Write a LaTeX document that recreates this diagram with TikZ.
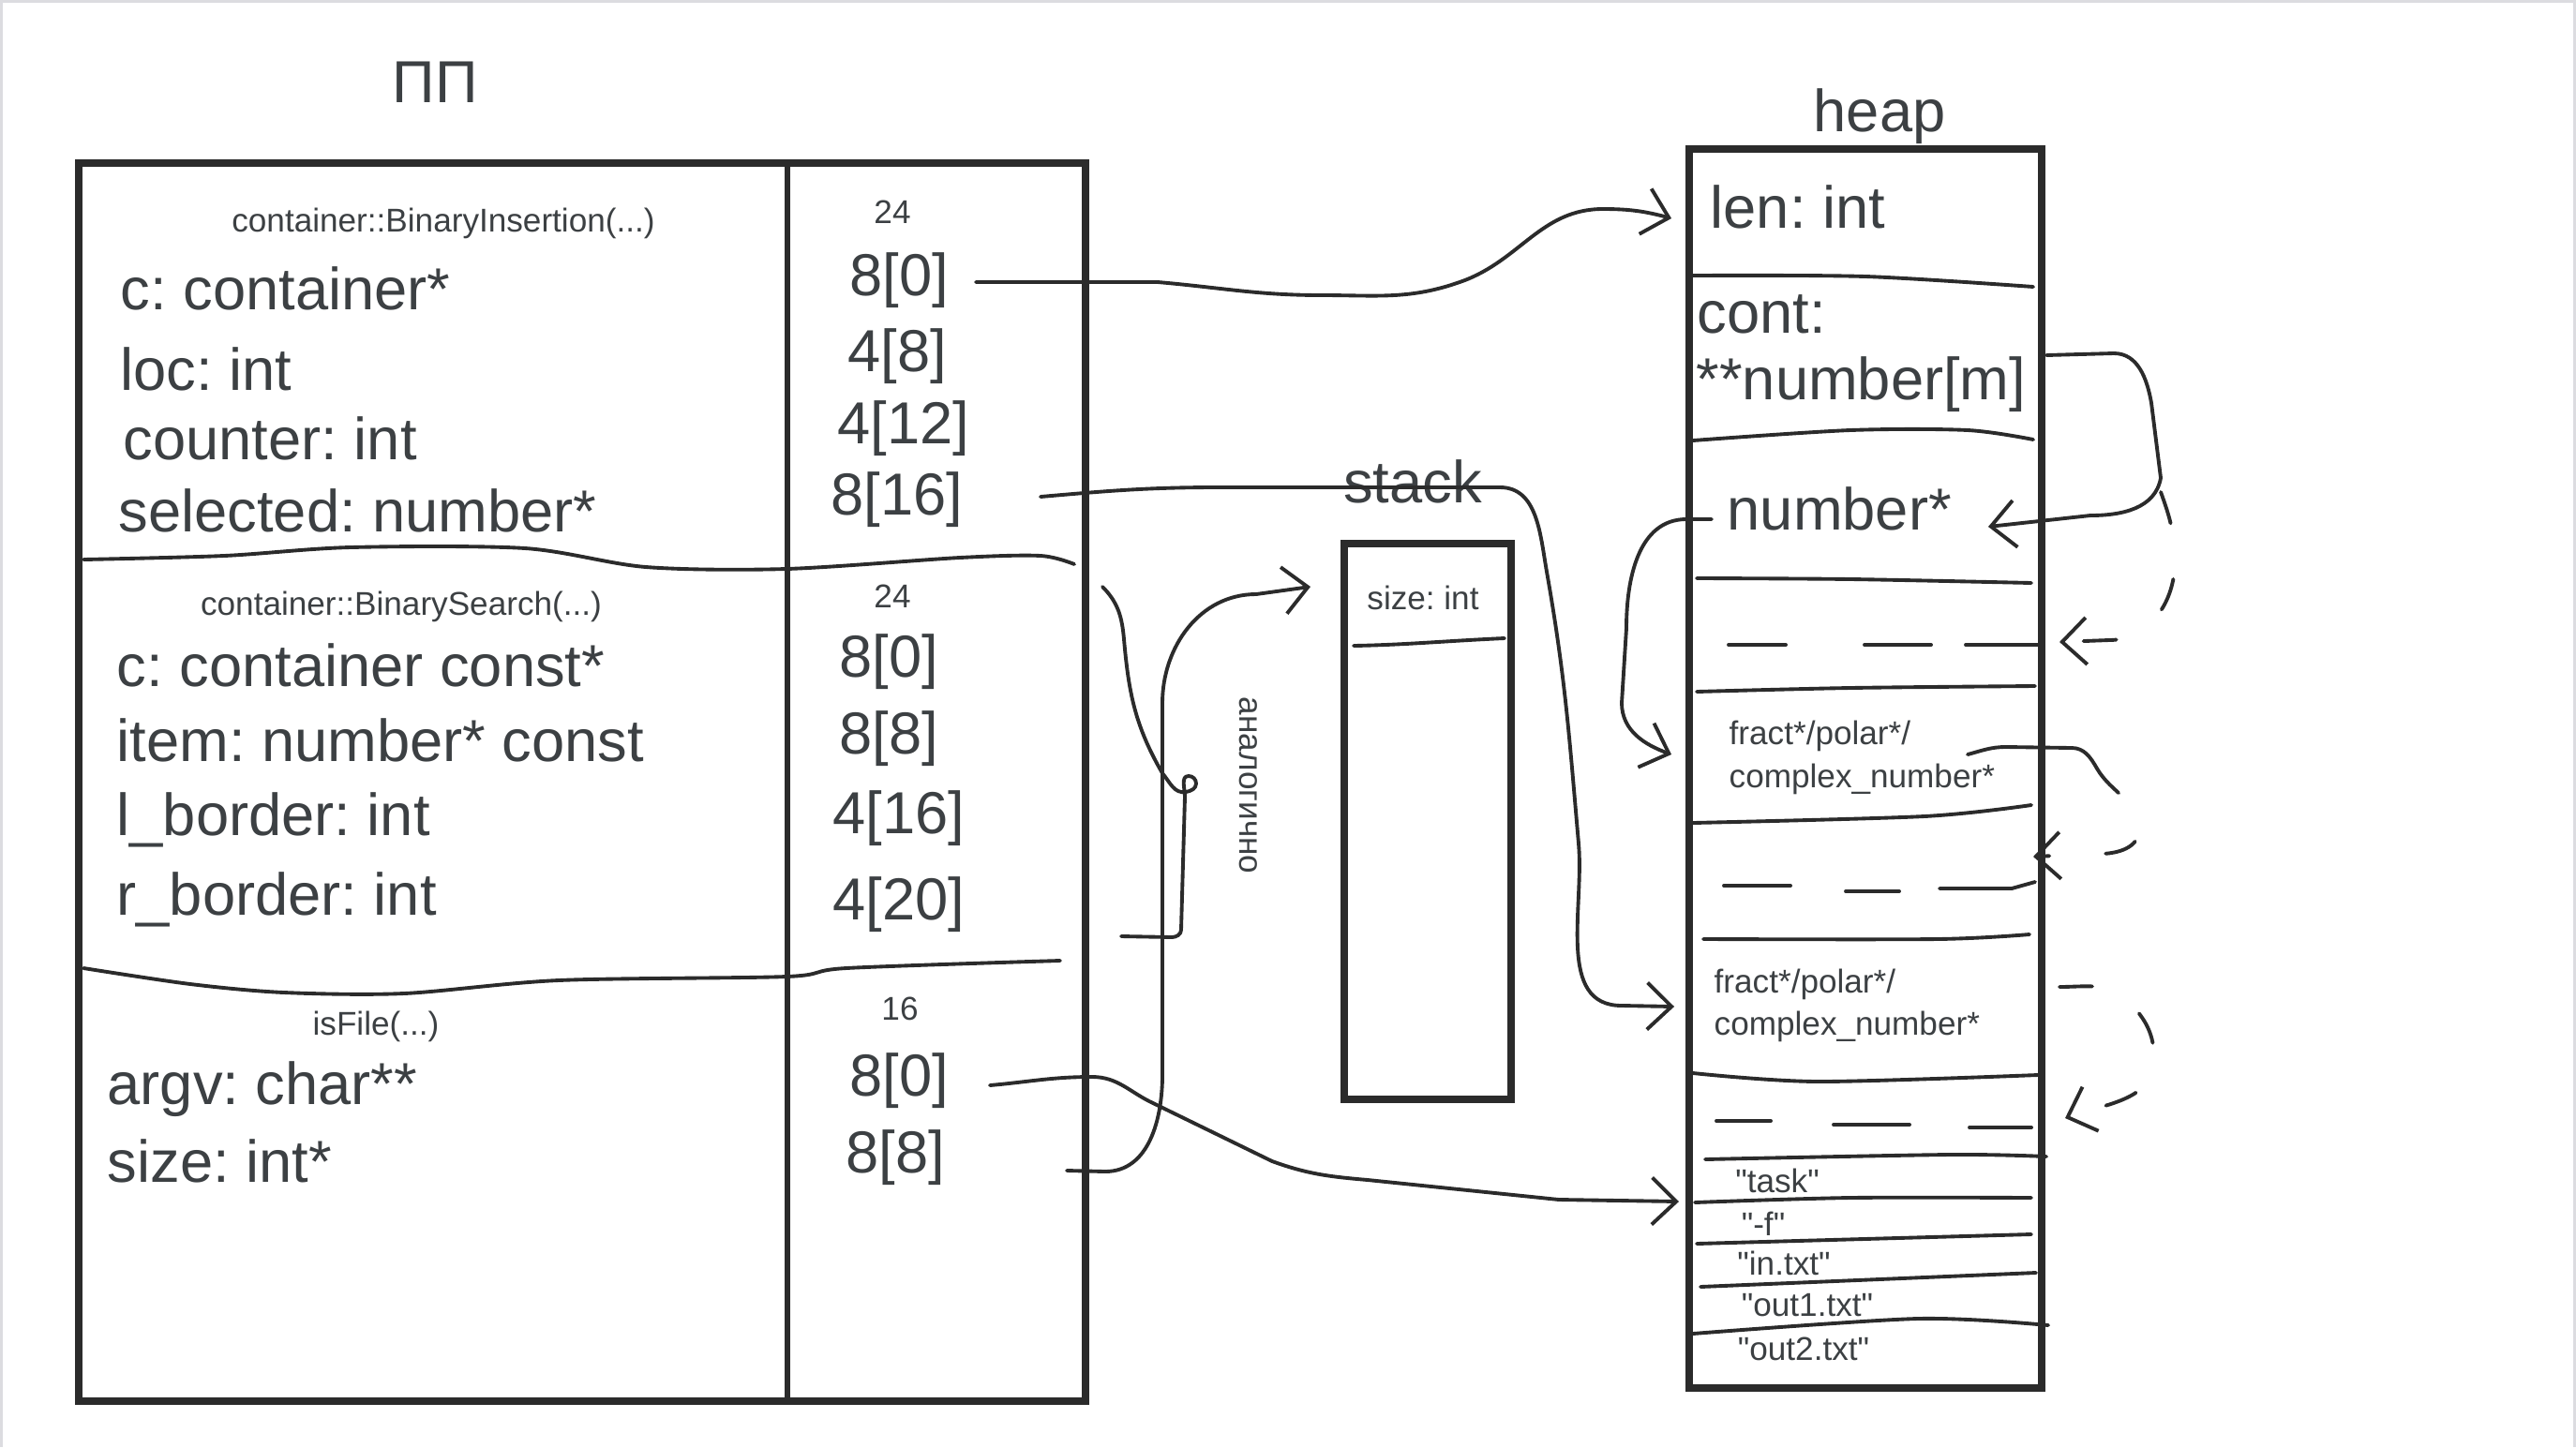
\documentclass[tikz,border=0pt]{standalone}
\usepackage{fontspec}
\setmainfont{Liberation Sans}[Ligatures=TeXOff]
\frenchspacing
\usetikzlibrary{arrows.meta}
\definecolor{inkgray}{HTML}{3C4043}
\definecolor{pengray}{HTML}{2B2B2B}
\definecolor{framegray}{HTML}{DCDCE0}

\begin{document}
\begin{tikzpicture}[
  big/.style={font=\fontsize{18}{20}\selectfont,text=inkgray,inner sep=0pt},
  sml/.style={font=\fontsize{10}{12}\selectfont,text=inkgray,inner sep=0pt},
  fld/.style={big,anchor=west},
  frame/.style={draw=pengray,line width=2.2pt},
  pen/.style={draw=pengray,line width=1.1pt,line cap=round,line join=round},
  ptr/.style={pen,-{Straight Barb[length=2.6mm,width=5mm,line width=1.1pt]}},
  gapline/.style={pen,dash pattern=on 3.5mm off 6mm}
]

% Canvas
\fill[framegray] (0,0) rectangle (27.48,-15.44);
\fill[white] (0.03,-0.03) rectangle (27.45,-15.44);
\useasboundingbox (0,0) rectangle (27.48,-15.44);

% ---- Titles ------------------------------------------------
\node[big] (ttlpp)    at (4.64,-0.88)  {ПП};
\node[big] (ttlheap)  at (20.05,-1.24) {heap};
\node[big] (ttlstack) at (15.07,-5.14) {stack};

% ---- Frames ------------------------------------------------
\draw[frame] (0.84,-1.74) rectangle (11.58,-14.95);
\draw[pengray,line width=1.8pt] (8.40,-1.74) -- (8.40,-14.95);
\draw[frame] (14.34,-5.80) rectangle (16.12,-11.73);
\draw[frame] (18.02,-1.59) rectangle (21.78,-14.81);

% ---- BinaryInsertion frame ---------------------------------
\node[sml] (fn1) at (4.73,-2.38) {container::BinaryInsertion(...)};
\node[fld] (c1)  at (1.28,-3.08) {c: container*};
\node[fld] (loc) at (1.28,-3.94) {loc: int};
\node[fld] (cnt) at (1.31,-4.68) {counter: int};
\node[fld] (sel) at (1.26,-5.45) {selected: number*};
\node[sml] (sz1) at (9.52,-2.26) {24};
\node[big] (o10) at (9.59,-2.99) {8[0]};
\node[big] (o11) at (9.57,-3.80) {4[8]};
\node[big] (o12) at (9.64,-4.57) {4[12]};
\node[big] (o13) at (9.57,-5.33) {8[16]};
\draw[pen] plot[smooth] coordinates {(0.89,-5.97) (2.39,-5.93) (3.74,-5.84)
  (5.60,-5.85) (6.89,-6.05) (8.39,-6.07) (10.24,-5.95) (11.10,-5.93) (11.46,-6.02)};

% ---- BinarySearch frame ------------------------------------
\node[sml] (fn2) at (4.28,-6.47) {container::BinarySearch(...)};
\node[fld] (c2)  at (1.24,-7.10) {c: container const*};
\node[fld] (itm) at (1.24,-7.90) {item: number* const};
\node[fld] (lb)  at (1.24,-8.75) {l\_border: int};
\node[fld] (rb)  at (1.24,-9.60) {r\_border: int};
\node[sml] (sz2) at (9.52,-6.36) {24};
\node[big] (o20) at (9.48,-7.06) {8[0]};
\node[big] (o21) at (9.48,-7.88) {8[8]};
\node[big] (o22) at (9.59,-8.73) {4[16]};
\node[big] (o23) at (9.59,-9.65) {4[20]};
\draw[pen] plot[smooth] coordinates {(0.89,-10.33) (2.03,-10.50) (3.03,-10.59)
  (4.31,-10.60) (5.96,-10.46) (8.39,-10.42) (9.03,-10.33) (11.31,-10.25)};

% ---- isFile frame ------------------------------------------
\node[sml] (fn3)  at (4.01,-10.95) {isFile(...)};
\node[sml] (sz3)  at (9.60,-10.76) {16};
\node[fld] (argv) at (1.14,-11.62) {argv: char**};
\node[fld] (sizp) at (1.14,-12.39) {size: int*};
\node[big] (o30)  at (9.59,-11.53) {8[0]};
\node[big] (o31)  at (9.55,-12.35) {8[8]};

% ---- Stack -------------------------------------------------
\node[sml] (ssz) at (15.18,-6.38) {size: int};
\draw[pen] (14.44,-6.89) .. controls (15.0,-6.88) and (15.4,-6.84) .. (16.05,-6.81);
\node[sml,rotate=-90] (anlg) at (13.32,-8.38) {аналогично};

% ---- Heap --------------------------------------------------
\node[fld] (len)  at (18.24,-2.21) {len: int};
\draw[pen] plot[smooth] coordinates {(18.06,-2.94) (19.9,-2.95) (21.69,-3.06)};
\node[fld] (cont) at (18.10,-3.35) {cont:};
\node[fld] (arr)  at (18.09,-4.10) {**number[m]};
\draw[pen] plot[smooth] coordinates {(18.06,-4.70) (19.74,-4.59) (20.99,-4.59) (21.69,-4.69)};
\node[fld] (nump) at (18.42,-5.43) {number*};
\draw[pen] plot[smooth] coordinates {(18.10,-6.17) (19.74,-6.18) (21.67,-6.22)};
\draw[pen] (18.44,-6.88) -- (19.05,-6.88);
\draw[pen] (19.89,-6.88) -- (20.60,-6.88);
\draw[pen] (20.97,-6.88) -- (21.74,-6.88);
\draw[pen] plot[smooth] coordinates {(18.10,-7.38) (19.74,-7.34) (21.71,-7.32)};
\node[sml,anchor=west] (fr1a) at (18.44,-7.85) {fract*/polar*/};
\node[sml,anchor=west] (fr1b) at (18.44,-8.31) {complex\_number*};
\draw[pen] plot[smooth] coordinates {(18.06,-8.78) (20.53,-8.71) (21.67,-8.59)};
\draw[pen] (18.39,-9.45) -- (19.10,-9.45);
\draw[pen] (19.69,-9.51) -- (20.26,-9.51);
\draw[pen] (20.69,-9.48) -- (21.46,-9.48) -- (21.71,-9.41);
\draw[pen] plot[smooth] coordinates {(18.17,-10.02) (20.67,-10.02) (21.65,-9.97)};
\node[sml,anchor=west] (fr2a) at (18.28,-10.50) {fract*/polar*/};
\node[sml,anchor=west] (fr2b) at (18.28,-10.95) {complex\_number*};
\draw[pen] plot[smooth] coordinates {(18.06,-11.45) (19.39,-11.54) (21.74,-11.47)};
\draw[pen] (18.31,-11.96) -- (18.89,-11.96);
\draw[pen] (19.56,-12.00) -- (20.37,-12.00);
\draw[pen] (21.01,-12.03) -- (21.67,-12.03);
\draw[pen] plot[smooth] coordinates {(18.19,-12.37) (20.81,-12.32) (21.83,-12.34)};
\node[sml] (s1) at (18.96,-12.60) {"task"};
\draw[pen] plot[smooth] coordinates {(18.08,-12.83) (19.74,-12.78) (21.67,-12.78)};
\node[sml] (s2) at (18.81,-13.06) {"-f"};
\draw[pen] (18.10,-13.27) -- (21.67,-13.17);
\node[sml] (s3) at (19.03,-13.48) {"in.txt"};
\draw[pen] (18.14,-13.73) -- (21.72,-13.58);
\node[sml] (s4) at (19.28,-13.93) {"out1.txt"};
\draw[pen] plot[smooth] coordinates {(18.06,-14.23) (20.46,-14.07) (21.85,-14.14)};
\node[sml] (s5) at (19.24,-14.39) {"out2.txt"};

% ---- Pointers ----------------------------------------------
\coordinate (c1s)   at (10.41,-3.01);
\coordinate (lenin) at (17.83,-2.33);
\draw[ptr] (c1s) -- (12.35,-3.01) to[out=-5,in=180] (14.1,-3.15)
  to[out=0,in=200] (15.6,-3.0) to[out=20,in=180] (17.1,-2.23) to[out=0,in=165] (lenin);

\coordinate (sels)  at (11.10,-5.30);
\coordinate (fr2in) at (17.86,-10.74);
\draw[ptr] (sels) to[out=5,in=180] (13.0,-5.2) -- (16.0,-5.2) to[out=0,in=100] (16.5,-6.1)
  to[out=-80,in=95] (16.84,-9.0) to[out=-85,in=180] (17.3,-10.73) -- (fr2in);

\coordinate (nums)  at (18.26,-5.54);
\coordinate (fr1in) at (17.83,-8.05);
\draw[ptr] (nums) -- (17.99,-5.54) to[out=180,in=90] (17.35,-6.7) -- (17.30,-7.5)
  to[out=-90,in=160] (fr1in);

\coordinate (arrs)  at (21.83,-3.79);
\coordinate (numin) at (21.21,-5.62);
\draw[ptr] (arrs) -- (22.55,-3.77) to[out=0,in=100] (22.95,-4.3) -- (23.05,-5.1)
  to[out=-100,in=0] (22.3,-5.5) -- (numin);

\coordinate (gap1s)  at (23.05,-5.25);
\coordinate (gap1in) at (21.97,-6.85);
\draw[ptr,gapline] (gap1s) to[out=-70,in=90] (23.2,-6.0) to[out=-90,in=0] (22.5,-6.83) -- (gap1in);

\coordinate (fr1s)   at (20.99,-8.05);
\coordinate (fr1k)   at (22.37,-8.2);
\coordinate (gap2in) at (21.69,-9.14);
\draw[pen] (fr1s) to[out=15,in=180] (21.4,-7.97) -- (22.1,-7.98) to[out=0,in=120] (fr1k);
\draw[ptr,gapline] (fr1k) to[out=-60,in=90] (22.82,-8.85) to[out=-90,in=0] (22.4,-9.11) -- (gap2in);

\coordinate (fr2s)   at (21.97,-10.53);
\coordinate (gap3in) at (22.03,-11.93);
\draw[ptr,gapline] (fr2s) to[out=0,in=135] (22.70,-10.68) to[out=-45,in=90] (22.98,-11.3)
  to[out=-90,in=20] (gap3in);

\coordinate (argvs) at (10.56,-11.58);
\coordinate (strin) at (17.91,-12.82);
\draw[ptr] (argvs) to[out=5,in=180] (11.65,-11.49) to[out=0,in=155] (12.3,-11.77)
  -- (13.57,-12.39) to[out=-20,in=175] (14.59,-12.59) -- (16.63,-12.80) -- (strin);

\coordinate (sizs)  at (11.38,-12.49);
\coordinate (stkin) at (13.98,-6.26);
\draw[ptr] (sizs) -- (11.79,-12.50) to[out=0,in=-90] (12.40,-11.47) -- (12.40,-7.5)
  to[out=90,in=180] (13.4,-6.34) -- (stkin);

% ---- "similarly" brace -------------------------------------
\coordinate (brs) at (11.76,-6.26);
\coordinate (bre) at (11.96,-9.99);
\draw[pen] (brs) to[out=-45,in=95] (11.99,-6.82) to[out=-85,in=120] (12.4,-8.25)
  to[out=-50,in=190] (12.65,-8.45) to[out=10,in=-90] (12.76,-8.36) to[out=90,in=0] (12.68,-8.28)
  to[out=180,in=90] (12.64,-8.5) -- (12.60,-9.92) to[out=-90,in=0] (12.50,-10.0) -- (bre);

\end{tikzpicture}
\end{document}
